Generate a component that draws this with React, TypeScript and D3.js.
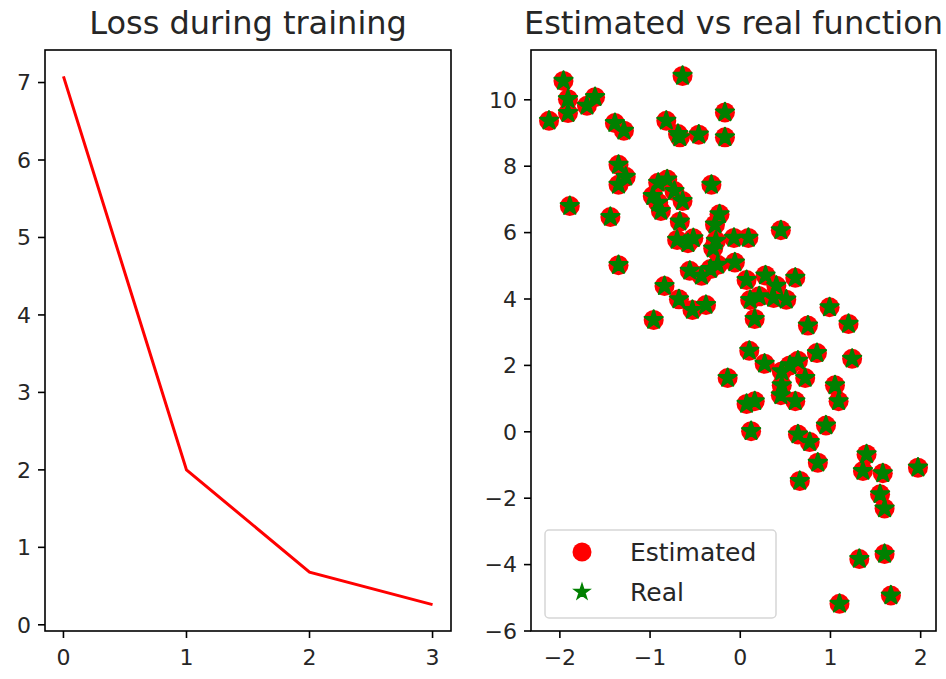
import * as d3 from 'd3';
import React from 'react';

// loss per epoch
const epochs = [0, 1, 2, 3];
const lossValues = [7.08, 2.0, 0.68, 0.26];

// scatter samples (estimated and real overlap exactly)
const sampleX = [
  -2.12, -1.96, -1.91, -1.91, -1.70, -1.61, -1.39, -1.29, -1.89, -1.44,
  -1.35, -1.27, -1.35, -1.35, -0.82, -0.69, -0.67, -0.64, -0.46, -0.17,
  -0.17, -0.97, -0.91, -0.81, -0.91, -0.88, -0.73, -0.64, -0.32, -0.67,
  -0.70, -0.58, -0.52, -0.23, -0.28, -0.27, -0.30, -0.07, 0.09, 0.45,
  -0.56, -0.43, -0.33, -0.25, -0.06, 0.07, 0.28, 0.40, 0.61, 0.11,
  0.21, 0.37, 0.51, 0.16, -0.84, -0.68, -0.53, -0.38, -0.96, 0.75,
  0.99, 1.20, 0.10, 0.27, -0.14, 0.46, 0.55, 0.64, 0.85, 1.24,
  0.72, 0.46, 0.45, 0.61, 0.07, 0.16, 1.05, 1.09, 0.12, 0.64,
  0.77, 0.95, 0.86, 0.66, 1.40, 1.36, 1.58, 1.97, 1.55, 1.60,
  1.32, 1.60, 1.67, 1.10,
];
const realY = [
  9.37, 10.57, 10.02, 9.60, 9.82, 10.08, 9.30, 9.07, 6.80, 6.47,
  8.04, 7.68, 7.44, 5.02, 9.37, 8.97, 8.87, 10.72, 8.95, 9.62,
  8.87, 7.10, 7.50, 7.60, 6.90, 6.65, 7.25, 6.95, 7.44, 6.33,
  5.78, 5.68, 5.83, 6.55, 6.24, 5.75, 5.52, 5.84, 5.84, 6.07,
  4.85, 4.70, 4.90, 5.03, 5.10, 4.57, 4.71, 4.40, 4.64, 3.97,
  4.08, 4.03, 3.98, 3.40, 4.39, 3.99, 3.67, 3.82, 3.37, 3.20,
  3.75, 3.25, 2.44, 2.05, 1.62, 1.82, 2.00, 2.14, 2.37, 2.20,
  1.62, 1.40, 1.10, 0.92, 0.84, 0.92, 1.40, 0.92, 0.02, -0.08,
  -0.31, 0.19, -0.93, -1.48, -0.68, -1.18, -1.25, -1.08, -1.88, -2.31,
  -3.83, -3.68, -4.93, -5.18,
];
const estimatedY = realY;

const lossXTicks = [0, 1, 2, 3];
const lossYTicks = [0, 1, 2, 3, 4, 5, 6, 7];
const fitXTicks = [-2, -1, 0, 1, 2];
const fitYTicks = [-6, -4, -2, 0, 2, 4, 6, 8, 10];

const W = 946;
const H = 679;
const top = 50;
const bottom = 631;
const leftBox = { x0: 45, x1: 451 };
const rightBox = { x0: 531, x1: 936 };
const font = 'DejaVu Sans, sans-serif';
const textColor = '#262626';

const fmt = (v: number) => (v < 0 ? '\u2212' + Math.abs(v) : String(v));

function starPath(r: number) {
  const inner = r * 0.381966;
  const pts: string[] = [];
  for (let k = 0; k < 10; k++) {
    const a = -Math.PI / 2 + (k * Math.PI) / 5;
    const rr = k % 2 === 0 ? r : inner;
    pts.push((rr * Math.cos(a)).toFixed(2) + ',' + (rr * Math.sin(a)).toFixed(2));
  }
  return 'M' + pts.join('L') + 'Z';
}

function Axes({ box, x, y, xTicks, yTicks, title }: any) {
  return (
    <g>
      <rect x={box.x0} y={top} width={box.x1 - box.x0} height={bottom - top}
        fill="none" stroke="#000" strokeWidth={1.6} />
      {xTicks.map((t: number) => (
        <g key={'x' + t} transform={`translate(${x(t)},${bottom})`}>
          <line y2={7} stroke="#000" strokeWidth={1.6} />
          <text y={34} textAnchor="middle" fontSize={22} fill={textColor}>{fmt(t)}</text>
        </g>
      ))}
      {yTicks.map((t: number) => (
        <g key={'y' + t} transform={`translate(${box.x0},${y(t)})`}>
          <line x2={-7} stroke="#000" strokeWidth={1.6} />
          <text x={-14} dy="0.35em" textAnchor="end" fontSize={22} fill={textColor}>{fmt(t)}</text>
        </g>
      ))}
      <text x={(box.x0 + box.x1) / 2} y={34} textAnchor="middle" fontSize={32} fill={textColor}>{title}</text>
    </g>
  );
}

export default function App() {
  const lx = d3.scaleLinear().domain([-0.15, 3.15]).range([leftBox.x0, leftBox.x1]);
  const ly = d3.scaleLinear().domain([-0.08, 7.42]).range([bottom, top]);
  const rx = d3.scaleLinear().domain([-2.32, 2.17]).range([rightBox.x0, rightBox.x1]);
  const ry = d3.scaleLinear().domain([-6, 11.5]).range([bottom, top]);

  const line = d3.line<number>()
    .x((_, i) => lx(epochs[i]))
    .y((d) => ly(d));

  const star = starPath(9.5);

  return (
    <svg width={W} height={H} style={{ position: 'absolute', left: 0, top: 0, background: '#fff' }}
      fontFamily={font}>
      <rect width={W} height={H} fill="#fff" />

      <Axes box={leftBox} x={lx} y={ly} xTicks={lossXTicks} yTicks={lossYTicks} title="Loss during training" />
      <path d={line(lossValues) || ''} fill="none" stroke="#ff0000" strokeWidth={3} />

      <Axes box={rightBox} x={rx} y={ry} xTicks={fitXTicks} yTicks={fitYTicks} title="Estimated vs real function" />
      <g>
        {sampleX.map((v, i) => (
          <circle key={'e' + i} cx={rx(v)} cy={ry(estimatedY[i])} r={10} fill="#ff0000" />
        ))}
        {sampleX.map((v, i) => (
          <path key={'r' + i} d={star} transform={`translate(${rx(v)},${ry(realY[i])})`}
            fill="#008000" stroke="#008000" strokeWidth={2.2} strokeLinejoin="round" />
        ))}
      </g>

      <g>
        <rect x={545} y={530} width={231} height={88} rx={4} fill="#fff" fillOpacity={0.8}
          stroke="#d6d6d6" strokeWidth={1.5} />
        <circle cx={582} cy={552} r={9.5} fill="#ff0000" />
        <text x={630} y={552} dy="0.35em" fontSize={25} fill={textColor}>Estimated</text>
        <path d={starPath(8)} transform="translate(582,592)" fill="#008000" stroke="#008000" strokeWidth={1.5} />
        <text x={630} y={592} dy="0.35em" fontSize={25} fill={textColor}>Real</text>
      </g>
    </svg>
  );
}
